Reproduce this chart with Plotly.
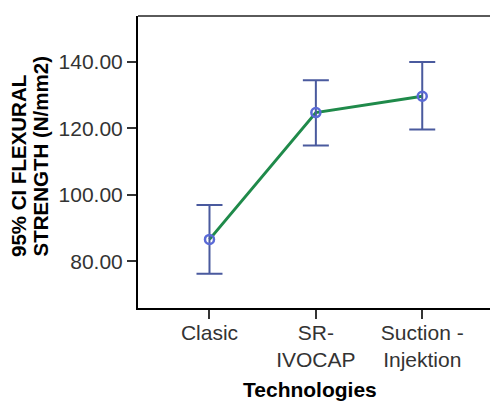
import plotly.graph_objects as go

categories = ["Clasic", "SR-<br>IVOCAP", "Suction -<br>Injektion"]
means = [86.6, 124.7, 129.6]
upper = [96.9, 134.4, 139.9]
lower = [76.3, 114.8, 119.6]
y_ticks = [80, 100, 120, 140]
x_title = "Technologies"
y_title_lines = ["95% CI FLEXURAL", "STRENGTH (N/mm2)"]

W, H = 490, 401
ML, MR, MT, MB = 138, 0, 16, 93
PW, PH = W - ML - MR, H - MT - MB

def px_x(px):
    return (px - ML) / PW

def px_y(py):
    return (H - MB - py) / PH

xs = list(range(len(categories)))
err_plus = [u - m for u, m in zip(upper, means)]
err_minus = [m - l for m, l in zip(means, lower)]

fig = go.Figure()
fig.add_trace(go.Scatter(
    x=xs, y=means, mode="lines",
    line=dict(color="#1f8a4a", width=3),
    hoverinfo="skip", showlegend=False,
))
fig.add_trace(go.Scatter(
    x=xs, y=means, mode="markers",
    marker=dict(symbol="circle-open", size=9, color="#5a6ad6",
                line=dict(width=2.5, color="#5a6ad6")),
    error_y=dict(type="data", symmetric=False, array=err_plus,
                 arrayminus=err_minus, color="#4a5a9e", thickness=2, width=13),
    showlegend=False,
))

tick_font = dict(family="Liberation Sans, Arial, sans-serif", size=21, color="#333333")
title_font_family = "Liberation Sans, Arial, sans-serif"

fig.update_layout(
    width=W, height=H,
    margin=dict(l=ML, r=MR, t=MT, b=MB, pad=0),
    paper_bgcolor="white", plot_bgcolor="white",
    xaxis=dict(
        range=[-0.672, 2.637],
        tickmode="array", tickvals=xs, ticktext=categories,
        showgrid=False, zeroline=False,
        showline=True, linecolor="black", linewidth=1.5,
        ticks="outside", ticklen=9, tickwidth=1.5, tickcolor="#333333",
        tickfont=tick_font, automargin=False, ticklabelstandoff=-4,
    ),
    yaxis=dict(
        range=[66.0, 153.7],
        tickmode="array", tickvals=y_ticks,
        ticktext=[f"{v:.2f}" for v in y_ticks],
        showgrid=False, zeroline=False,
        showline=True, linecolor="black", linewidth=2,
        ticks="outside", ticklen=9, tickwidth=1.5, tickcolor="#333333",
        tickfont=tick_font, automargin=False,
    ),
    shapes=[dict(type="line", xref="paper", yref="paper", x0=0, x1=1, y0=1, y1=1,
                 line=dict(color="#5a5a5a", width=2))],
    annotations=[
        dict(text=f"<b>{x_title}</b>", xref="paper", yref="paper",
             x=px_x(310), y=px_y(389), xanchor="center", yanchor="middle",
             showarrow=False,
             font=dict(family=title_font_family, size=21, color="black")),
        dict(text=f"<b>{y_title_lines[0]}</b>", xref="paper", yref="paper",
             x=px_x(18), y=px_y(259), xanchor="center", yanchor="bottom",
             textangle=-90, showarrow=False,
             font=dict(family=title_font_family, size=20.5, color="black")),
        dict(text=f"<b>{y_title_lines[1]}</b>", xref="paper", yref="paper",
             x=px_x(39.5), y=px_y(259), xanchor="center", yanchor="bottom",
             textangle=-90, showarrow=False,
             font=dict(family=title_font_family, size=20.5, color="black")),
    ],
)

fig.write_html(
    "out.html",
    config={"displayModeBar": False},
    post_script="document.body.style.margin='0';document.body.style.overflow='hidden';",
)
